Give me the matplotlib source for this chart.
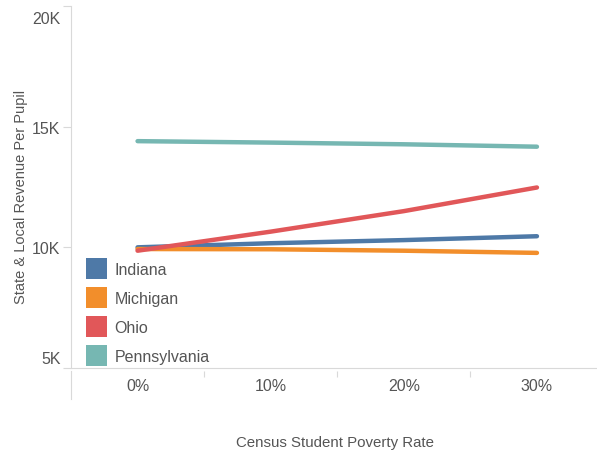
import matplotlib
matplotlib.use("Agg")
import matplotlib.pyplot as plt
from matplotlib.patches import Patch
from matplotlib.transforms import ScaledTranslation

plt.rcParams['font.family'] = ['Liberation Sans', 'DejaVu Sans']

rates = ['0%', '10%', '20%', '30%']
indiana = [10000, 10170, 10300, 10460]
michigan = [9930, 9920, 9860, 9770]
ohio = [9860, 10650, 11500, 12480]
pennsylvania = [14400, 14340, 14270, 14170]

states = ['Indiana', 'Michigan', 'Ohio', 'Pennsylvania']
colors = ['#4e79a7', '#f28e2b', '#e15759', '#76b7b2']
series = [indiana, michigan, ohio, pennsylvania]

W, H = 597, 456
fig = plt.figure(figsize=(W / 100, H / 100), dpi=100)
# plot area runs past the right edge like the original
ax = fig.add_axes([71 / W, (H - 369) / H, (603.5 - 71) / W, (369 - 7) / H])
x = range(len(rates))
for vals, c in zip(series, colors):
    ax.plot(x, vals, color=c, lw=3.2, solid_capstyle='round', zorder=3)

ax.set_xlim(-0.5, 3.5)
ax.set_ylim(5000, 20000)
ax.set_yticks([5000, 10000, 15000, 20000])
ax.set_yticklabels(['5K', '10K', '15K', '20K'])
ax.set_xticks(list(x))
ax.set_xticklabels(rates)
grey = '#d9d9d9'
txt = '#555555'
for s in ['top', 'right']:
    ax.spines[s].set_visible(False)
ax.spines['left'].set_color(grey)
ax.spines['bottom'].set_color(grey)
ax.tick_params(axis='y', length=6, color=grey, labelcolor=txt, labelsize=11.5, pad=1.5)
ax.tick_params(axis='x', length=0, labelcolor=txt, labelsize=11.5, pad=7.5)
lbls = ax.get_yticklabels()
lbls[0].set_va('bottom')
lbls[0].set_transform(lbls[0].get_transform() + ScaledTranslation(0, 2 / 100, fig.dpi_scale_trans))
lbls[-1].set_va('top')
lbls[-1].set_transform(lbls[-1].get_transform() + ScaledTranslation(0, -5 / 100, fig.dpi_scale_trans))
ax.set_ylabel('State & Local Revenue Per Pupil', color=txt, fontsize=10.5)
ax.yaxis.set_label_coords(-43 / 532, 0.475)

# band under the plot with the category separators
bx = fig.add_axes([71 / W, (H - 400) / H, (603.5 - 71) / W, 28 / H])
bx.set_xlim(-0.5, 3.5)
bx.patch.set_visible(False)
for s in ['top', 'right', 'bottom']:
    bx.spines[s].set_visible(False)
bx.spines['left'].set_color(grey)
bx.set_yticks([])
bx.xaxis.set_ticks_position('top')
bx.set_xticks([0.5, 1.5, 2.5])
bx.tick_params(axis='x', direction='in', length=4, color=grey, labeltop=False, labelbottom=False)
fig.text(335 / W, (H - 443) / H, 'Census Student Poverty Rate', ha='center', va='center',
         color=txt, fontsize=10.8)

handles = [Patch(facecolor=c, edgecolor='none') for c in colors]
ax.legend(handles, states, loc='lower left', bbox_to_anchor=(0.014, -0.0166), frameon=False,
          fontsize=11.5, labelcolor=txt, handlelength=1.3, handleheight=1.65,
          handletextpad=0.45, labelspacing=0.5, borderaxespad=0.1)

fig.savefig('out.png', dpi=100)
